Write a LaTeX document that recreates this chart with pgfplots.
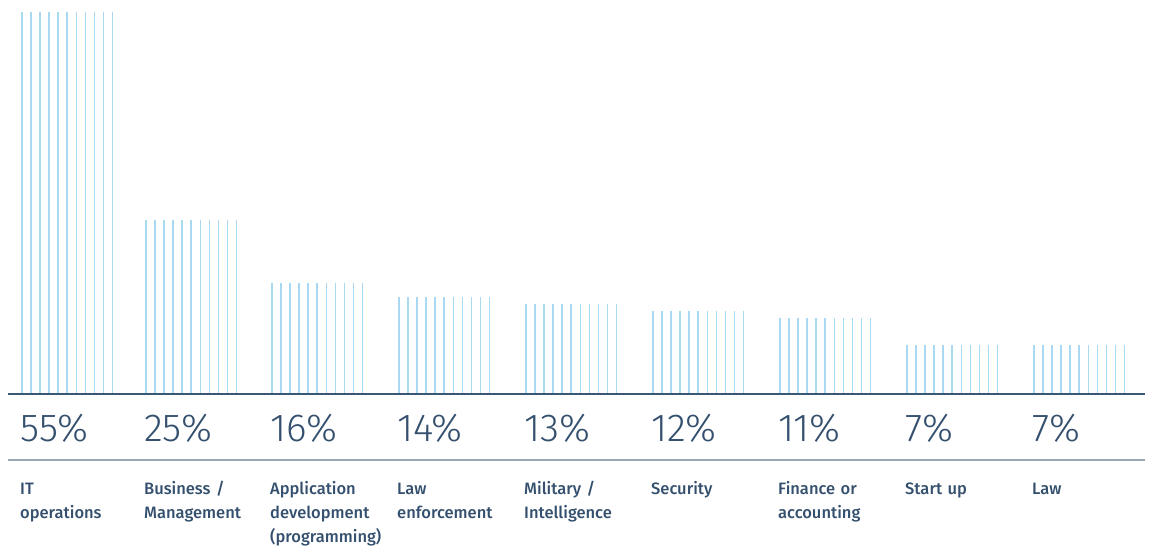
\documentclass[border=0pt]{standalone}
\usepackage{pgfplots}
\pgfplotsset{compat=1.18}
\usepackage{pgfplotstable}
\usepackage{fontspec}
\newfontfamily\pctfont{Fira Sans}[UprightFont={* Light}]
\newfontfamily\catfont{Fira Sans}[UprightFont={* Medium}]
\definecolor{barblue}{HTML}{A9D8F2}
\definecolor{basedark}{HTML}{3B5876}
\definecolor{linegrey}{HTML}{9AA7B5}
\definecolor{txt}{HTML}{34506E}
\pgfplotstableread{
x v
22 55
146 25
272 16
399 14
526 13
653 12
780 11
907 7
1034 7
}\data
\tikzset{pct/.style={anchor=base west, inner sep=0pt, text=txt, font=\pctfont\fontsize{39}{39}\selectfont},
cat/.style={anchor=base west, inner sep=0pt, text=txt, align=left, text width=125pt, font=\catfont\fontsize{16.5}{24}\selectfont}}
\begin{document}
\begin{tikzpicture}
\begin{axis}[
  width=1153pt, height=546pt, scale only axis,
  xmin=0, xmax=1153, ymin=-21.89, ymax=56.73,
  axis lines=none, clip=false,
]
\path (rel axis cs:0,0) rectangle (rel axis cs:1,1);
\pgfplotsinvokeforeach{0,...,10}{
  \addplot[ycomb, barblue, line width=1.6pt, no marks] table[x expr=\thisrow{x}+#1*9.05, y=v]{\data};
}
\draw[basedark, line width=1.3pt] (axis cs:8,0) -- (axis cs:1145,0);
\draw[linegrey, line width=1.6pt] (axis cs:8,-9.5) -- (axis cs:1145,-9.5);
\node[pct] at (axis cs:20,-6.91) {55\%};
\node[pct] at (axis cs:144,-6.91) {25\%};
\node[pct] at (axis cs:270,-6.91) {16\%};
\node[pct] at (axis cs:397,-6.91) {14\%};
\node[pct] at (axis cs:524,-6.91) {13\%};
\node[pct] at (axis cs:651,-6.91) {12\%};
\node[pct] at (axis cs:778,-6.91) {11\%};
\node[pct] at (axis cs:905,-6.91) {7\%};
\node[pct] at (axis cs:1032,-6.91) {7\%};
\node[cat] at (axis cs:20,-14.54) {IT\\operations};
\node[cat] at (axis cs:144,-14.54) {Business /\\Management};
\node[cat] at (axis cs:270,-14.54) {Application\\development\\(programming)};
\node[cat] at (axis cs:397,-14.54) {Law\\enforcement};
\node[cat] at (axis cs:524,-14.54) {Military /\\Intelligence};
\node[cat] at (axis cs:651,-14.54) {Security};
\node[cat] at (axis cs:778,-14.54) {Finance or\\accounting};
\node[cat] at (axis cs:905,-14.54) {Start up};
\node[cat] at (axis cs:1032,-14.54) {Law};
\end{axis}
\pgfresetboundingbox
\path (current axis.south west) rectangle (current axis.north east);
\end{tikzpicture}
\end{document}
